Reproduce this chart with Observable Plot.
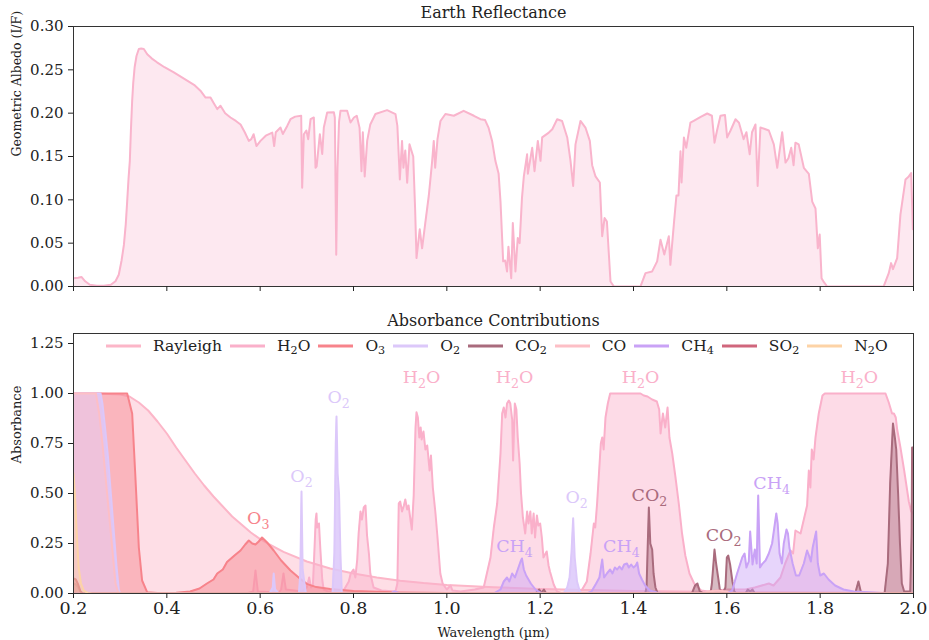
<!DOCTYPE html>
<html><head><meta charset="utf-8">
<script src="https://cdn.jsdelivr.net/npm/d3@7"></script>
<script src="https://cdn.jsdelivr.net/npm/@observablehq/plot@0.6"></script>
<style>
body{margin:0;background:#fff;font-family:"DejaVu Serif",serif;}
#wrap{position:relative;width:929px;height:640px;overflow:hidden;}
#legend{position:absolute;left:106px;top:337px;display:flex;align-items:center;font-size:15.5px;color:#222;white-space:nowrap;}
#legend .item{display:flex;align-items:center;margin-right:8px;}
#legend svg{margin-right:12px;}
#legend .sb{font-size:0.72em;position:relative;top:0.3em;}
</style></head><body>
<div id="wrap"><div id="topc"></div><div id="botc"></div><div id="legend"></div></div>
<script>
// ---------- data ----------
const xTicks = [0.2,0.4,0.6,0.8,1.0,1.2,1.4,1.6,1.8,2.0];
const yTicksTop = [0,0.05,0.10,0.15,0.20,0.25,0.30];
const yTicksBot = [0,0.25,0.5,0.75,1.0,1.25];

const albedo = [
[0.200,0.0096],[0.210,0.0100],[0.217,0.0110],[0.225,0.0060],[0.235,0.0020],[0.250,0.0010],[0.265,0.0010],[0.280,0.0020],[0.290,0.0060],[0.297,0.0135],
[0.303,0.030],[0.308,0.048],[0.312,0.072],[0.315,0.098],[0.318,0.125],[0.3207,0.145],[0.323,0.180],[0.3257,0.214],[0.328,0.235],[0.331,0.253],
[0.335,0.266],[0.340,0.274],[0.345,0.2745],[0.3507,0.274],[0.358,0.268],[0.368,0.263],[0.379,0.2587],[0.395,0.253],[0.415,0.247],[0.4436,0.2375],
[0.460,0.232],[0.472,0.2259],[0.483,0.218],[0.4936,0.218],[0.500,0.212],[0.508,0.2047],[0.515,0.2085],[0.525,0.200],[0.5364,0.195],[0.548,0.191],
[0.558,0.187],[0.567,0.178],[0.5757,0.168],[0.581,0.170],[0.586,0.1757],[0.592,0.162],[0.6007,0.168],[0.612,0.174],[0.626,0.1776],[0.630,0.162],
[0.6335,0.178],[0.6436,0.1834],[0.6486,0.176],[0.658,0.1853],[0.665,0.193],[0.675,0.196],[0.6879,0.197],[0.690,0.114],[0.6936,0.1757],[0.699,0.180],
[0.703,0.170],[0.708,0.193],[0.715,0.195],[0.7186,0.137],[0.721,0.1386],[0.7279,0.1757],[0.733,0.153],[0.7364,0.1834],[0.7436,0.2007],[0.7579,0.201],
[0.760,0.195],[0.763,0.0367],[0.7657,0.137],[0.769,0.190],[0.7721,0.2027],[0.7864,0.2027],[0.7936,0.1892],[0.801,0.195],[0.807,0.197],[0.813,0.183],
[0.8171,0.133],[0.820,0.178],[0.824,0.127],[0.8293,0.168],[0.836,0.187],[0.847,0.199],[0.872,0.2035],[0.890,0.199],[0.894,0.1853],[0.8993,0.1236],
[0.904,0.168],[0.907,0.137],[0.911,0.157],[0.915,0.1197],[0.920,0.164],[0.928,0.150],[0.932,0.090],[0.935,0.0328],[0.942,0.066],[0.947,0.044],
[0.954,0.074],[0.9614,0.105],[0.9686,0.145],[0.972,0.168],[0.975,0.137],[0.980,0.170],[0.9864,0.191],[0.997,0.199],[1.015,0.197],[1.036,0.2027],
[1.058,0.197],[1.072,0.193],[1.082,0.192],[1.0893,0.1834],[1.097,0.168],[1.104,0.145],[1.111,0.130],[1.115,0.098],[1.1207,0.029],[1.125,0.030],
[1.129,0.0174],[1.132,0.046],[1.138,0.0096],[1.1414,0.0733],[1.147,0.0174],[1.152,0.056],[1.156,0.050],[1.161,0.102],[1.165,0.127],[1.172,0.1525],
[1.1736,0.130],[1.1829,0.160],[1.1879,0.133],[1.195,0.168],[1.2007,0.145],[1.2043,0.172],[1.2186,0.1776],[1.226,0.1814],[1.2364,0.193],[1.247,0.191],
[1.258,0.172],[1.265,0.145],[1.2707,0.116],[1.2757,0.164],[1.2864,0.191],[1.297,0.1834],[1.3064,0.168],[1.3114,0.140],[1.3186,0.127],[1.3279,0.120],
[1.3329,0.058],[1.338,0.079],[1.343,0.075],[1.3507,0.0058],[1.358,0.0],[1.415,0.0],[1.4257,0.0154],[1.440,0.0174],[1.4507,0.029],[1.4579,0.054],
[1.466,0.037],[1.4757,0.058],[1.479,0.025],[1.4864,0.0714],[1.492,0.105],[1.4964,0.105],[1.5007,0.156],[1.503,0.120],[1.508,0.172],[1.513,0.160],
[1.522,0.189],[1.529,0.191],[1.545,0.196],[1.558,0.1996],[1.568,0.197],[1.5736,0.166],[1.579,0.180],[1.5864,0.197],[1.596,0.198],[1.6007,0.172],
[1.608,0.180],[1.6186,0.193],[1.626,0.189],[1.636,0.170],[1.642,0.178],[1.649,0.1525],[1.654,0.178],[1.6614,0.187],[1.666,0.116],[1.672,0.1834],
[1.680,0.182],[1.690,0.180],[1.7007,0.164],[1.708,0.137],[1.7186,0.178],[1.7257,0.143],[1.732,0.148],[1.738,0.160],[1.743,0.140],[1.747,0.166],
[1.754,0.164],[1.765,0.137],[1.7757,0.130],[1.783,0.098],[1.790,0.090],[1.795,0.044],[1.799,0.060],[1.803,0.0096],[1.808,0.005],[1.815,0.0],
[1.936,0.0],[1.947,0.0154],[1.952,0.027],[1.956,0.020],[1.965,0.0328],[1.972,0.083],[1.9829,0.1236],[1.990,0.127],[1.995,0.131],[1.9986,0.066],[2.000,0.066]
];

const rayleigh = [
[0.2,1],[0.25,1],[0.30,0.995],[0.32,0.985],[0.34,0.955],[0.36,0.915],[0.38,0.86],[0.40,0.80],[0.42,0.73],[0.44,0.665],[0.46,0.60],[0.48,0.54],
[0.50,0.485],[0.52,0.435],[0.54,0.385],[0.56,0.345],[0.58,0.305],[0.60,0.272],[0.62,0.245],[0.65,0.208],[0.70,0.16],[0.75,0.125],[0.80,0.1],
[0.85,0.08],[0.90,0.064],[0.95,0.052],[1.0,0.043],[1.1,0.031],[1.2,0.023],[1.3,0.017],[1.4,0.013],[1.5,0.01],[1.6,0.008],[1.8,0.005],[2.0,0.003]
];

const h2o = [
[0.2,0],[0.57,0],[0.585,0.01],[0.59,0.115],[0.595,0.01],[0.64,0.005],[0.645,0.02],[0.65,0.1],[0.655,0.02],[0.69,0.01],[0.700,0.03],[0.705,0.08],
[0.709,0.03],[0.713,0.04],[0.716,0.2],[0.719,0.37],[0.7207,0.40],[0.722,0.33],[0.726,0.35],[0.729,0.22],[0.733,0.07],[0.736,0.02],[0.745,0.01],
[0.78,0.02],[0.79,0.06],[0.794,0.1],[0.80,0.12],[0.804,0.08],[0.808,0.17],[0.811,0.30],[0.815,0.41],[0.818,0.37],[0.822,0.43],[0.8257,0.44],
[0.829,0.29],[0.833,0.20],[0.836,0.10],[0.843,0.03],[0.86,0.015],[0.89,0.01],[0.894,0.05],[0.897,0.45],[0.90,0.46],[0.904,0.41],[0.908,0.44],
[0.911,0.47],[0.915,0.42],[0.918,0.44],[0.922,0.37],[0.925,0.32],[0.929,0.49],[0.9329,0.83],[0.935,0.906],[0.938,0.88],[0.941,0.78],[0.944,0.83],
[0.946,0.77],[0.95,0.81],[0.954,0.72],[0.958,0.74],[0.963,0.615],[0.966,0.69],[0.97,0.53],[0.9757,0.40],[0.98,0.28],[0.986,0.10],[0.991,0.05],
[1.0,0.02],[1.008,0.04],[1.012,0.015],[1.03,0.01],[1.06,0.02],[1.079,0.03],[1.0936,0.18],[1.1007,0.33],[1.1079,0.45],[1.115,0.70],[1.1186,0.90],
[1.122,0.93],[1.1257,0.88],[1.129,0.95],[1.1329,0.965],[1.136,0.95],[1.14,0.87],[1.142,0.665],[1.1457,0.95],[1.149,0.92],[1.152,0.78],[1.156,0.65],
[1.159,0.50],[1.163,0.38],[1.168,0.30],[1.172,0.41],[1.175,0.35],[1.179,0.41],[1.182,0.30],[1.186,0.40],[1.189,0.28],[1.193,0.39],[1.196,0.34],
[1.2,0.35],[1.2036,0.28],[1.207,0.18],[1.214,0.21],[1.218,0.14],[1.221,0.11],[1.229,0.045],[1.236,0.01],[1.245,0.003],[1.28,0.005],[1.29,0.02],
[1.30,0.06],[1.308,0.2],[1.315,0.35],[1.318,0.33],[1.322,0.45],[1.326,0.6],[1.33,0.75],[1.333,0.78],[1.336,0.72],[1.34,0.88],[1.345,0.95],
[1.35,1.0],[1.415,1.0],[1.422,0.99],[1.43,0.985],[1.44,0.97],[1.45,0.96],[1.455,0.92],[1.458,0.8],[1.463,0.9],[1.468,0.83],[1.473,0.93],
[1.477,0.78],[1.483,0.7],[1.49,0.58],[1.497,0.45],[1.504,0.3],[1.511,0.19],[1.52,0.1],[1.53,0.05],[1.545,0.015],[1.56,0.01],[1.6,0.02],
[1.64,0.02],[1.66,0.03],[1.69,0.05],[1.70,0.04],[1.715,0.08],[1.725,0.15],[1.7364,0.215],[1.742,0.2],[1.747,0.315],[1.758,0.3],[1.765,0.37],
[1.772,0.44],[1.7757,0.615],[1.779,0.53],[1.782,0.72],[1.786,0.67],[1.79,0.78],[1.797,0.9],[1.805,0.99],[1.81,1.0],[1.94,1.0],[1.947,0.955],
[1.954,0.9],[1.958,0.9],[1.962,0.88],[1.965,0.82],[1.972,0.73],[1.98,0.615],[1.99,0.46],[1.995,0.41],[2.0,0.40]
];

const o3 = [
[0.2,1],[0.3,1],[0.31,1],[0.315,1],[0.3257,0.9],[0.333,0.565],[0.34,0.23],[0.347,0.065],[0.358,0.006],[0.38,0.002],[0.42,0.004],[0.45,0.01],
[0.47,0.025],[0.486,0.05],[0.5,0.07],[0.508,0.1],[0.52,0.12],[0.529,0.157],[0.545,0.19],[0.558,0.215],[0.568,0.245],[0.5757,0.265],[0.583,0.25],
[0.59,0.245],[0.597,0.26],[0.604,0.28],[0.615,0.255],[0.629,0.215],[0.645,0.165],[0.665,0.115],[0.685,0.075],[0.70,0.048],[0.72,0.032],[0.75,0.023],
[0.8,0.012],[0.9,0.005],[1.0,0.002],[1.1,0.001],[1.2,0],[2.0,0]
];

const o2 = [
[0.2,1],[0.258,1],[0.262,0.95],[0.268,0.82],[0.274,0.68],[0.28,0.5],[0.286,0.32],[0.292,0.14],[0.297,0.02],[0.30,0],[0.62,0],[0.627,0.03],
[0.629,0.1],[0.632,0.02],[0.64,0],[0.683,0],[0.686,0.1],[0.6886,0.51],[0.691,0.12],[0.695,0.05],[0.698,0],[0.755,0],[0.759,0.2],[0.762,0.75],
[0.7636,0.885],[0.766,0.6],[0.769,0.5],[0.772,0.2],[0.775,0],[0.88,0],[0.888,0.01],[0.895,0],[1.25,0],[1.258,0.03],[1.263,0.08],[1.267,0.2],
[1.2707,0.376],[1.274,0.18],[1.279,0.06],[1.285,0.01],[1.29,0],[2.0,0]
];

const co2 = [
[0.2,0.05],[0.205,0.045],[0.21,0.03],[0.215,0.01],[0.22,0],[1.19,0],[1.198,0.02],[1.203,0.005],[1.208,0.02],[1.213,0],[1.425,0],[1.428,0.03],
[1.43,0.2],[1.4329,0.43],[1.436,0.25],[1.44,0.22],[1.443,0.1],[1.447,0.03],[1.452,0],[1.525,0],[1.532,0.04],[1.537,0.05],[1.542,0.01],[1.55,0],
[1.565,0],[1.568,0.05],[1.572,0.17],[1.5736,0.22],[1.577,0.15],[1.582,0.07],[1.585,0.02],[1.592,0.005],[1.597,0.03],[1.6,0.18],[1.603,0.19],
[1.607,0.145],[1.612,0.06],[1.616,0.01],[1.62,0],[1.64,0],[1.645,0.02],[1.65,0.01],[1.655,0.02],[1.66,0],[1.875,0],[1.882,0.06],[1.888,0],
[1.938,0],[1.945,0.15],[1.95,0.55],[1.956,0.85],[1.96,0.78],[1.963,0.72],[1.967,0.5],[1.971,0.25],[1.975,0.05],[1.98,0.01],[1.993,0.01],
[1.996,0.3],[1.997,0.73],[2.0,0.73]
];

const co = [
[0.2,1],[0.248,1],[0.255,0.9],[0.262,0.75],[0.272,0.5],[0.28,0.3],[0.286,0.15],[0.29,0.05],[0.295,0.01],[0.30,0],
[1.55,0],[1.56,0.01],[1.58,0.015],[1.6,0.01],[1.62,0],[2.0,0]
];

const ch4 = [
[0.2,0],[0.88,0],[0.888,0.01],[0.9,0],[1.10,0],[1.115,0.02],[1.122,0.06],[1.129,0.08],[1.134,0.06],[1.14,0.1],[1.146,0.08],[1.152,0.12],
[1.158,0.16],[1.161,0.175],[1.165,0.12],[1.17,0.09],[1.18,0.05],[1.19,0.02],[1.2,0.005],[1.21,0],[1.30,0],[1.31,0.01],[1.32,0.05],[1.327,0.08],
[1.333,0.17],[1.337,0.08],[1.343,0.1],[1.35,0.12],[1.355,0.1],[1.36,0.13],[1.365,0.12],[1.37,0.135],[1.375,0.12],[1.38,0.145],[1.386,0.15],
[1.39,0.13],[1.395,0.145],[1.4,0.13],[1.405,0.14],[1.408,0.155],[1.412,0.1],[1.418,0.07],[1.425,0.04],[1.435,0.015],[1.45,0.005],[1.47,0],
[1.60,0],[1.6114,0.015],[1.622,0.1],[1.633,0.18],[1.638,0.2],[1.642,0.13],[1.647,0.16],[1.65,0.31],[1.655,0.145],[1.66,0.22],[1.664,0.15],
[1.6672,0.49],[1.671,0.13],[1.676,0.148],[1.683,0.165],[1.69,0.2],[1.697,0.25],[1.7021,0.335],[1.706,0.4],[1.709,0.35],[1.713,0.2],[1.718,0.15],
[1.722,0.25],[1.7279,0.32],[1.731,0.3],[1.734,0.23],[1.741,0.15],[1.748,0.09],[1.755,0.09],[1.765,0.15],[1.772,0.215],[1.776,0.19],[1.78,0.16],
[1.784,0.23],[1.7914,0.31],[1.795,0.15],[1.8,0.09],[1.808,0.1],[1.818,0.07],[1.832,0.04],[1.85,0.02],[1.872,0.01],[1.915,0.005],[1.95,0],[2.0,0]
];

const so2 = [[0.2,0.075],[0.205,0.07],[0.21,0.045],[0.215,0.01],[0.22,0],[2.0,0]];

const n2o = [[0.2,0.6],[0.203,0.5],[0.207,0.3],[0.211,0.13],[0.216,0.05],[0.222,0.015],[0.23,0.003],[0.24,0],[2.0,0]];

const seriesNames = ["Rayleigh","H₂O","O₃","O₂","CO₂","CO","CH₄","SO₂","N₂O"];
const seriesData = [rayleigh,h2o,o3,o2,co2,co,ch4,so2,n2o];
const seriesColors = ["#fcb6c8","#fab0ca","#f7838b","#dcc8fa","#a96b7d","#fdbfc6","#c9a2f6","#d0667c","#fdd3a6"];
const seriesFillOpacity = [0.45,0.45,0.45,0.85,0.45,0.5,0.45,0.45,0.45];

const annText = ["O₃","O₂","O₂","H₂O","H₂O","H₂O","H₂O","O₂","CO₂","CO₂","CH₄","CH₄","CH₄"];
const annX    = [0.596,0.6886,0.768,0.9457,1.145,1.415,1.884,1.278,1.434,1.593,1.696,1.145,1.374];
const annY    = [0.375,0.585,0.98,1.08,1.08,1.08,1.08,0.48,0.49,0.29,0.55,0.235,0.235];
const annSeries = [2,3,3,1,1,1,1,3,4,4,6,6,6];

// ---------- drawing ----------
const FONT = '"DejaVu Serif", serif';
const W = 929, ML = 73, MR = 16;
const topColor = "#f9b4cc";
const SUB = {"₀":"0","₁":"1","₂":"2","₃":"3","₄":"4","₅":"5","₆":"6","₇":"7","₈":"8","₉":"9"};

const topPlot = Plot.plot({
  width: W, height: 300, marginLeft: ML, marginRight: MR, marginTop: 26, marginBottom: 14,
  style: {fontFamily: FONT, background: "#fff", color: "#222", overflow: "visible"},
  x: {domain: [0.2, 2.0]},
  y: {domain: [0, 0.30]},
  marks: [
    Plot.areaY(albedo, {x: d => d[0], y: d => d[1], fill: topColor, fillOpacity: 0.3, clip: true}),
    Plot.line(albedo, {x: d => d[0], y: d => d[1], stroke: topColor, strokeWidth: 2, clip: true}),
    Plot.frame({stroke: "#333"}),
    Plot.axisX({ticks: xTicks, tickFormat: () => "", tickSize: 5, label: null}),
    Plot.axisY({ticks: yTicksTop, tickFormat: d3.format(".2f"), tickSize: 5, tickPadding: 5, fontSize: 15, label: null}),
    Plot.text(["Earth Reflectance"], {text: d => d, frameAnchor: "top", lineAnchor: "middle", dy: -14, fontSize: 16, fill: "#222"}),
    Plot.text(["Geometric Albedo (I/F)"], {text: d => d, frameAnchor: "left", lineAnchor: "middle", dx: -57, rotate: -90, fontSize: 12.5, fill: "#222"})
  ]
});
document.getElementById("topc").append(topPlot);

const speciesMarks = seriesData.flatMap((data, i) => [
  Plot.areaY(data, {x: d => d[0], y: d => d[1], fill: seriesColors[i], fillOpacity: seriesFillOpacity[i], clip: true}),
  Plot.line(data, {x: d => d[0], y: d => d[1], stroke: seriesColors[i], strokeWidth: 2, clip: true})
]);

const annData = annText.map((t, i) => ({t, x: annX[i], y: annY[i], c: seriesColors[annSeries[i]]}));

const botPlot = Plot.plot({
  width: W, height: 340, marginLeft: ML, marginRight: MR, marginTop: 33, marginBottom: 47,
  style: {fontFamily: FONT, background: "#fff", color: "#222", overflow: "visible"},
  x: {domain: [0.2, 2.0]},
  y: {domain: [0, 1.30]},
  marks: [
    ...speciesMarks,
    Plot.text(annData, {x: "x", y: "y", text: "t", fill: d => d.c, fontSize: 17.5, className: "ann"}),
    Plot.frame({stroke: "#333"}),
    Plot.axisX({ticks: xTicks, tickFormat: d3.format(".1f"), tickSize: 5, tickPadding: 3, fontSize: 17.5, label: null}),
    Plot.axisY({ticks: yTicksBot, tickFormat: d3.format(".2f"), tickSize: 5, tickPadding: 5, fontSize: 15, label: null}),
    Plot.text(["Absorbance Contributions"], {text: d => d, frameAnchor: "top", lineAnchor: "middle", dy: -13, fontSize: 16, fill: "#222"}),
    Plot.text(["Absorbance"], {text: d => d, frameAnchor: "left", lineAnchor: "middle", dx: -57, rotate: -90, fontSize: 13, fill: "#222"}),
    Plot.text(["Wavelength (µm)"], {text: d => d, frameAnchor: "bottom", lineAnchor: "middle", dy: 39, fontSize: 13, fill: "#222"})
  ]
});
document.getElementById("botc").append(botPlot);

// render unicode subscripts as real lowered, smaller digits
botPlot.querySelectorAll("text").forEach(el => {
  const s = el.textContent;
  if (!/[₀-₉]/.test(s)) return;
  let html = "", shifted = false;
  for (const ch of s) {
    if (SUB[ch]) { html += `<tspan font-size="72%" dy="5">${SUB[ch]}</tspan>`; shifted = true; }
    else if (shifted) { html += `<tspan dy="-5">${ch}</tspan>`; shifted = false; }
    else html += ch;
  }
  el.innerHTML = html;
});

// legend
const leg = document.getElementById("legend");
seriesNames.forEach((n, i) => {
  const it = document.createElement("div");
  it.className = "item";
  const label = [...n].map(ch => SUB[ch] ? `<span class="sb">${SUB[ch]}</span>` : ch).join("");
  it.innerHTML = `<svg width="35" height="6"><line x1="0" y1="3" x2="35" y2="3" stroke="${seriesColors[i]}" stroke-width="3"/></svg><span>${label}</span>`;
  leg.append(it);
});
</script>
</body></html>
